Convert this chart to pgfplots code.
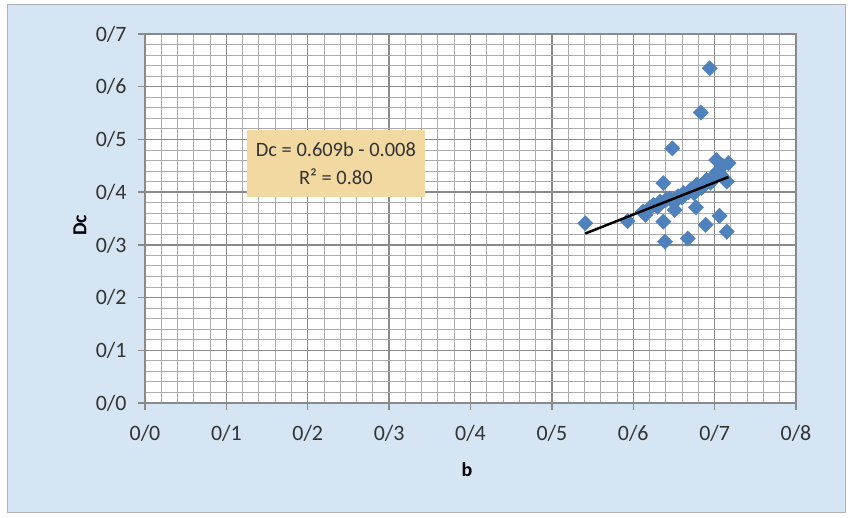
\documentclass[border=0pt]{standalone}
\usepackage{pgfplots}
\pgfplotsset{compat=1.18}
\usepackage{fontspec}
\setmainfont{Carlito}
\definecolor{bgblue}{HTML}{D5E5F3}
\definecolor{majgrid}{HTML}{8A8A8A}
\definecolor{mingrid}{HTML}{ABABAB}
\definecolor{ptblue}{HTML}{4F81BD}
\definecolor{boxtan}{HTML}{F2D9A2}
\definecolor{txtgray}{HTML}{333333}
\begin{document}
\begin{tikzpicture}
\fill[white] (0,0) rectangle (851bp,518bp);
\fill[bgblue, draw=gray!60, line width=1bp] (7bp,5bp) rectangle (845bp,513bp);
\begin{axis}[
  at={(145bp,115bp)}, anchor=south west,
  scale only axis, width=651bp, height=369bp,
  xmin=0, xmax=0.8, ymin=0, ymax=0.7,
  xtick={0,0.1,...,0.8}, ytick={0,0.1,...,0.7},
  xticklabels={{0/0},{0/1},{0/2},{0/3},{0/4},{0/5},{0/6},{0/7},{0/8}},
  yticklabels={{0/0},{0/1},{0/2},{0/3},{0/4},{0/5},{0/6},{0/7}},
  minor tick num=4,
  grid=both,
  major grid style={draw=majgrid, line width=1.3bp},
  minor grid style={draw=mingrid, line width=0.9bp},
  axis line style={draw=majgrid, line width=1.3bp},
  tick align=outside, tick pos=left,
  major tick length=7bp, minor tick length=0pt,
  major tick style={draw=majgrid, line width=1.3bp},
  tick label style={font=\fontsize{22}{24}\selectfont, text=txtgray},
  xticklabel style={yshift=-12bp},
  yticklabel style={xshift=-8bp},
  axis background/.style={fill=white},
  xlabel={\textbf{b}}, ylabel={\textbf{Dc}},
  label style={font=\fontsize{20}{22}\selectfont, text=black},
  xlabel style={at={(axis description cs:0.4946,-0.1816)}, anchor=center},
  ylabel style={at={(axis description cs:-0.0998,0.482)}, anchor=center},
  clip=false, clip marker paths=true,
]
\addplot[only marks, mark=square*, mark size=5.4bp, mark options={rotate=45, fill=ptblue, draw=ptblue}] coordinates {
(0.541,0.341) (0.593,0.345) (0.612,0.363) (0.615,0.357) (0.620,0.370)
(0.625,0.376) (0.630,0.372) (0.633,0.382) (0.637,0.417) (0.637,0.344)
(0.639,0.306) (0.640,0.385) (0.645,0.388) (0.648,0.483) (0.650,0.380)
(0.651,0.366) (0.655,0.392) (0.660,0.390) (0.662,0.398) (0.667,0.312)
(0.668,0.400) (0.670,0.404) (0.675,0.398) (0.677,0.371) (0.678,0.414)
(0.683,0.551) (0.684,0.408) (0.686,0.411) (0.689,0.338) (0.690,0.423)
(0.694,0.635) (0.695,0.418) (0.698,0.429) (0.702,0.461) (0.704,0.440)
(0.706,0.355) (0.708,0.432) (0.710,0.450) (0.712,0.425) (0.715,0.420)
(0.715,0.325) (0.717,0.455)
};
\addplot[black, line width=2.5bp] coordinates {(0.541,0.3215) (0.717,0.4287)};
\node[fill=boxtan, minimum width=178bp, minimum height=67bp, text=txtgray,
  font=\fontsize{20.5}{28}\selectfont, align=center, inner sep=0pt]
  at (axis cs:0.2346,0.4545) {Dc = 0.609b - 0.008\\R² = 0.80};
\end{axis}
\end{tikzpicture}
\end{document}
